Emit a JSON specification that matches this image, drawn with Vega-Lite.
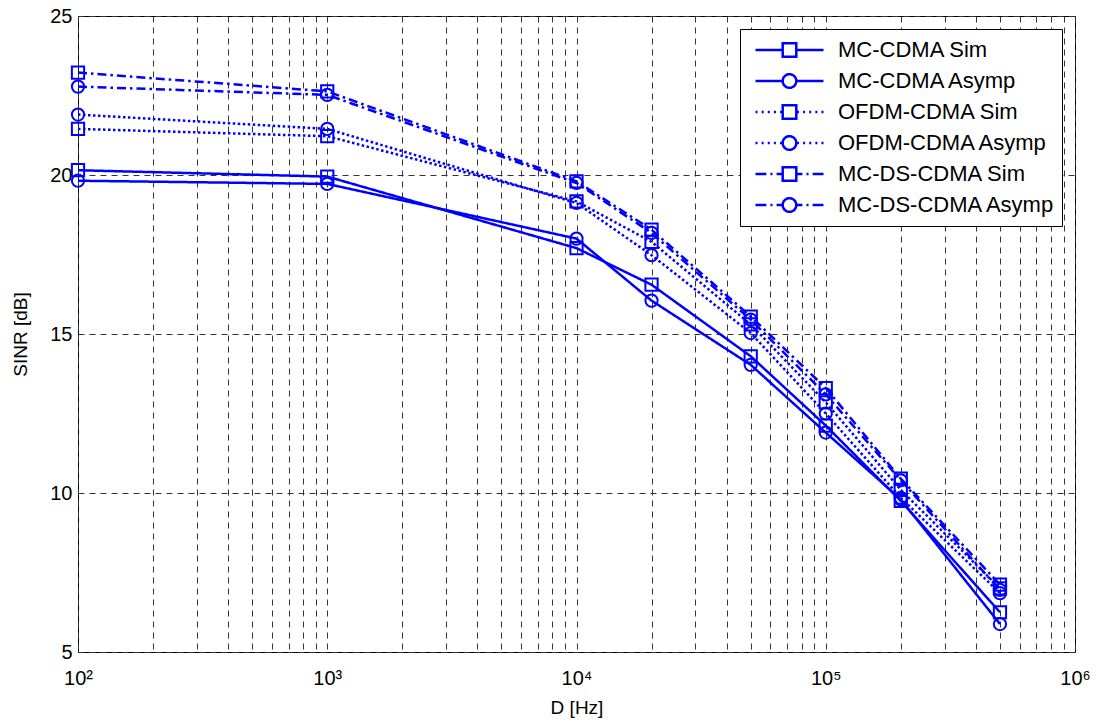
{
  "$schema": "https://vega.github.io/schema/vega-lite/v6.json",
  "width": 997,
  "height": 636,
  "autosize": {"type": "none"},
  "padding": {"left": 78, "top": 16, "right": 21, "bottom": 72},
  "background": "white",
  "config": {
    "view": {"stroke": "black", "strokeWidth": 1},
    "font": "Liberation Sans",
    "axis": {
      "labelFont": "Liberation Sans",
      "titleFont": "Liberation Sans",
      "labelFontSize": 20,
      "titleFontSize": 19,
      "labelColor": "black",
      "titleColor": "black",
      "titleFontWeight": "normal",
      "ticks": false,
      "domain": false,
      "grid": true,
      "gridColor": "#333333",
      "gridDash": [6, 5],
      "gridWidth": 1,
      "gridOpacity": 1
    }
  },
  "data": {
    "values": [
      {"series": "MC-CDMA Sim", "D": 100, "SINR": 20.15},
      {"series": "MC-CDMA Sim", "D": 1000, "SINR": 19.95},
      {"series": "MC-CDMA Sim", "D": 10000, "SINR": 17.7},
      {"series": "MC-CDMA Sim", "D": 20000, "SINR": 16.55},
      {"series": "MC-CDMA Sim", "D": 50000, "SINR": 14.3},
      {"series": "MC-CDMA Sim", "D": 100000, "SINR": 12.12},
      {"series": "MC-CDMA Sim", "D": 200000, "SINR": 9.75},
      {"series": "MC-CDMA Sim", "D": 500000, "SINR": 6.25},
      {"series": "MC-CDMA Asymp", "D": 100, "SINR": 19.82},
      {"series": "MC-CDMA Asymp", "D": 1000, "SINR": 19.72},
      {"series": "MC-CDMA Asymp", "D": 10000, "SINR": 18.0},
      {"series": "MC-CDMA Asymp", "D": 20000, "SINR": 16.05},
      {"series": "MC-CDMA Asymp", "D": 50000, "SINR": 14.03},
      {"series": "MC-CDMA Asymp", "D": 100000, "SINR": 11.9},
      {"series": "MC-CDMA Asymp", "D": 200000, "SINR": 9.8},
      {"series": "MC-CDMA Asymp", "D": 500000, "SINR": 5.88},
      {"series": "OFDM-CDMA Sim", "D": 100, "SINR": 21.45},
      {"series": "OFDM-CDMA Sim", "D": 1000, "SINR": 21.22},
      {"series": "OFDM-CDMA Sim", "D": 10000, "SINR": 19.17},
      {"series": "OFDM-CDMA Sim", "D": 20000, "SINR": 17.9},
      {"series": "OFDM-CDMA Sim", "D": 50000, "SINR": 15.3},
      {"series": "OFDM-CDMA Sim", "D": 100000, "SINR": 12.85},
      {"series": "OFDM-CDMA Sim", "D": 200000, "SINR": 10.1},
      {"series": "OFDM-CDMA Sim", "D": 500000, "SINR": 7.0},
      {"series": "OFDM-CDMA Asymp", "D": 100, "SINR": 21.9},
      {"series": "OFDM-CDMA Asymp", "D": 1000, "SINR": 21.45},
      {"series": "OFDM-CDMA Asymp", "D": 10000, "SINR": 19.12},
      {"series": "OFDM-CDMA Asymp", "D": 20000, "SINR": 17.48},
      {"series": "OFDM-CDMA Asymp", "D": 50000, "SINR": 15.03},
      {"series": "OFDM-CDMA Asymp", "D": 100000, "SINR": 12.5},
      {"series": "OFDM-CDMA Asymp", "D": 200000, "SINR": 9.85},
      {"series": "OFDM-CDMA Asymp", "D": 500000, "SINR": 6.85},
      {"series": "MC-DS-CDMA Sim", "D": 100, "SINR": 23.22},
      {"series": "MC-DS-CDMA Sim", "D": 1000, "SINR": 22.63},
      {"series": "MC-DS-CDMA Sim", "D": 10000, "SINR": 19.8},
      {"series": "MC-DS-CDMA Sim", "D": 20000, "SINR": 18.28},
      {"series": "MC-DS-CDMA Sim", "D": 50000, "SINR": 15.55},
      {"series": "MC-DS-CDMA Sim", "D": 100000, "SINR": 13.3},
      {"series": "MC-DS-CDMA Sim", "D": 200000, "SINR": 10.45},
      {"series": "MC-DS-CDMA Sim", "D": 500000, "SINR": 7.12},
      {"series": "MC-DS-CDMA Asymp", "D": 100, "SINR": 22.78},
      {"series": "MC-DS-CDMA Asymp", "D": 1000, "SINR": 22.52},
      {"series": "MC-DS-CDMA Asymp", "D": 10000, "SINR": 19.75},
      {"series": "MC-DS-CDMA Asymp", "D": 20000, "SINR": 18.18},
      {"series": "MC-DS-CDMA Asymp", "D": 50000, "SINR": 15.45},
      {"series": "MC-DS-CDMA Asymp", "D": 100000, "SINR": 13.1},
      {"series": "MC-DS-CDMA Asymp", "D": 200000, "SINR": 10.4},
      {"series": "MC-DS-CDMA Asymp", "D": 500000, "SINR": 6.95}
    ]
  },
  "encoding": {
    "x": {
      "field": "D",
      "type": "quantitative",
      "scale": {"type": "log", "domain": [100, 1000000], "nice": false},
      "axis": {
        "title": "D [Hz]",
        "values": [100, 200, 300, 400, 500, 600, 700, 800, 900, 1000, 2000, 3000, 4000, 5000, 6000, 7000, 8000, 9000, 10000, 20000, 30000, 40000, 50000, 60000, 70000, 80000, 90000, 100000, 200000, 300000, 400000, 500000, 600000, 700000, 800000, 900000, 1000000],
        "labelExpr": "datum.value == 100 ? '10²' : datum.value == 1000 ? '10³' : datum.value == 10000 ? '10⁴' : datum.value == 100000 ? '10⁵' : datum.value == 1000000 ? '10⁶' : ''",
        "labelPadding": 16,
        "labelOverlap": false,
        "labelFlush": false,
        "titlePadding": 10
      }
    },
    "y": {
      "field": "SINR",
      "type": "quantitative",
      "scale": {"domain": [5, 25], "nice": false, "zero": false},
      "axis": {
        "title": "SINR [dB]",
        "values": [5, 10, 15, 20, 25],
        "labelPadding": 6,
        "titlePadding": 19
      }
    },
    "color": {
      "field": "series",
      "type": "nominal",
      "scale": {
        "domain": ["MC-CDMA Sim", "MC-CDMA Asymp", "OFDM-CDMA Sim", "OFDM-CDMA Asymp", "MC-DS-CDMA Sim", "MC-DS-CDMA Asymp"],
        "range": ["#0000ff", "#0000ff", "#0000ff", "#0000ff", "#0000ff", "#0000ff"]
      },
      "legend": {
        "title": null,
        "orient": "top-right",
        "offset": 13,
        "padding": 6,
        "strokeColor": "black",
        "fillColor": "white",
        "labelFont": "Liberation Sans",
        "labelFontSize": 22,
        "labelColor": "black",
        "labelOffset": 13,
        "labelLimit": 400,
        "symbolSize": 4624,
        "symbolStrokeWidth": 2.5,
        "symbolOffset": 8,
        "clipHeight": 30,
        "rowPadding": 1,
        "encode": {
          "symbols": {
            "update": {
              "shape": {"signal": "(indexof(datum.value, 'Sim') >= 0 ? 'M-0.2,-0.2H0.2V0.2H-0.2Z' : 'M-0.2,0A0.2,0.2,0,1,0,0.2,0A0.2,0.2,0,1,0,-0.2,0Z') + (indexof(datum.value, 'OFDM') == 0 ? 'M-1,0H-0.94M-0.82,0H-0.76M-0.64,0H-0.58M-0.46,0H-0.4M-0.28,0H-0.22M0.22,0H0.28M0.4,0H0.46M0.58,0H0.64M0.76,0H0.82M0.94,0H1' : indexof(datum.value, 'MC-DS') == 0 ? 'M-1,0H-0.68M-0.56,0H-0.5M-0.38,0H-0.2M0.2,0H0.38M0.5,0H0.56M0.68,0H1' : 'M-1,0H-0.2M0.2,0H1')"},
              "size": {"value": 4624},
              "fill": {"value": "transparent"},
              "strokeWidth": {"value": 2.5},
              "strokeDash": {"value": [1, 0]},
              "opacity": {"value": 1}
            }
          }
        }
      }
    }
  },
  "layer": [
    {
      "mark": {"type": "line", "strokeWidth": 2.5, "strokeCap": "butt"},
      "encoding": {
        "strokeDash": {
          "field": "series",
          "type": "nominal",
          "scale": {
            "domain": ["MC-CDMA Asymp", "MC-CDMA Sim", "OFDM-CDMA Asymp", "OFDM-CDMA Sim", "MC-DS-CDMA Asymp", "MC-DS-CDMA Sim"],
            "range": [[1, 0], [1, 0], [2.5, 2.5], [2.5, 2.5], [9, 4, 2.5, 4], [9, 4, 2.5, 4]]
          },
          "legend": null
        }
      }
    },
    {
      "mark": {"type": "point", "filled": false, "size": 150, "strokeWidth": 2, "opacity": 1},
      "encoding": {
        "shape": {
          "field": "series",
          "type": "nominal",
          "scale": {
            "domain": ["MC-CDMA Sim", "OFDM-CDMA Sim", "MC-DS-CDMA Sim", "MC-CDMA Asymp", "OFDM-CDMA Asymp", "MC-DS-CDMA Asymp"],
            "range": ["square", "square", "square", "circle", "circle", "circle"]
          },
          "legend": null
        }
      }
    }
  ]
}
